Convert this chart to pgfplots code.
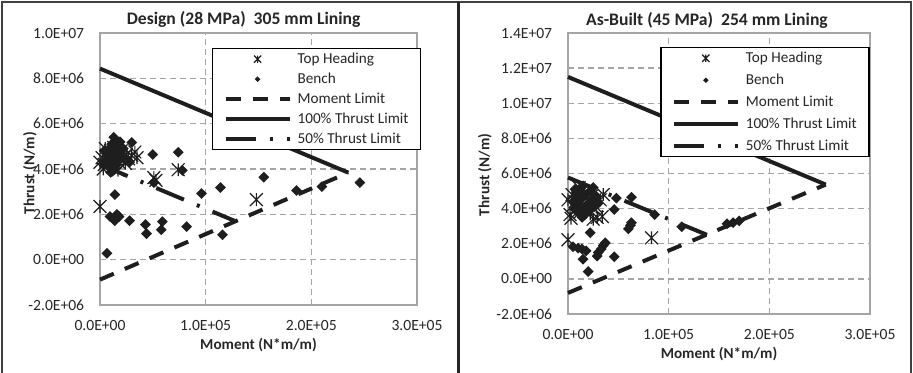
\documentclass[border=0pt]{standalone}
\usepackage{fontspec}
\setmainfont{Carlito}
\usepackage{pgfplots}
\pgfplotsset{compat=1.18}
\usetikzlibrary{plotmarks}

\pgfdeclareplotmark{xdiam}{%
 \pgfpathmoveto{\pgfqpoint{0pt}{\pgfplotmarksize}}%
 \pgfpathlineto{\pgfqpoint{\pgfplotmarksize}{0pt}}%
 \pgfpathlineto{\pgfqpoint{0pt}{-\pgfplotmarksize}}%
 \pgfpathlineto{\pgfqpoint{-\pgfplotmarksize}{0pt}}%
 \pgfpathclose\pgfusepathqfill}
\pgfdeclareplotmark{xstar}{%
 \pgfpathmoveto{\pgfqpoint{-\pgfplotmarksize}{-\pgfplotmarksize}}%
 \pgfpathlineto{\pgfqpoint{\pgfplotmarksize}{\pgfplotmarksize}}%
 \pgfpathmoveto{\pgfqpoint{-\pgfplotmarksize}{\pgfplotmarksize}}%
 \pgfpathlineto{\pgfqpoint{\pgfplotmarksize}{-\pgfplotmarksize}}%
 \pgfpathmoveto{\pgfqpoint{0pt}{-\pgfplotmarksize}}%
 \pgfpathlineto{\pgfqpoint{0pt}{\pgfplotmarksize}}%
 \pgfusepathqstroke}

\definecolor{ink}{RGB}{30,30,30}
\definecolor{gridc}{RGB}{165,165,165}

\pgfplotsset{
  every axis title shift=0pt,
  panel/.style={
    scale only axis, clip=false,
    axis line style={draw=gridc, line width=0.8pt},
    grid=major, major grid style={gridc, dash pattern=on 3pt off 2pt, line width=0.7pt},
    major tick length=0pt,
    tick label style={font=\fontsize{7.8}{9}\selectfont, text=black!85},
    /pgf/number format/assume math mode=true,
    xticklabel style={yshift=-4pt},
    yticklabel style={xshift=-4.4pt},
    xmin=0, xmax=3e5,
    xtick={0,1e5,2e5,3e5}, xticklabels={0.0E+00,1.0E+05,2.0E+05,3.0E+05},
    scaled ticks=false,
    xlabel={Moment (N*m/m)}, ylabel={Thrust (N/m)},
    label style={font=\bfseries\fontsize{7.6}{9}\selectfont, text=black!85},
    title style={font=\bfseries\fontsize{8.8}{10}\selectfont, text=black!85, anchor=center},
    legend style={font=\fontsize{7.6}{9}\selectfont, text=black!85, draw=black, line width=0.7pt,
      fill=white, anchor=north west, cells={anchor=west},
      inner xsep=5.5pt, inner ysep=1.25pt, column sep=2.5pt,
      nodes={inner sep=0.5pt, text height=5.5pt, text depth=1.5pt}},
    legend image code/.code={\draw[mark repeat=2,mark phase=2,#1] plot coordinates {(0pt,0pt) (16pt,0pt) (32pt,0pt)};},
  },
  th/.style={only marks, mark=xstar, mark size=3.2pt, draw=ink, mark options={line width=0.6pt}, legend image post style={mark size=1.8pt}},
  be/.style={only marks, mark=xdiam, mark size=2.7pt, fill=ink, draw=ink, legend image post style={mark size=1.4pt}},
  ml/.style={ink, line width=2pt, dash pattern=on 7.5pt off 6pt, no marks},
  tl/.style={ink, line width=2pt, no marks},
  hl/.style={ink, line width=2pt, dash pattern=on 15pt off 7pt on 1.5pt off 7pt, no marks},
}

\begin{document}
\begin{tikzpicture}
\useasboundingbox (0,0) rectangle (456.5pt,186pt);
\draw[line width=0.6pt, black!75] (1pt,-1pt) -- (1pt,185pt) -- (455.5pt,185pt) -- (455.5pt,-1pt);
\draw[line width=1.5pt, black!85] (229.2pt,-1pt) -- (229.2pt,185pt);

% ---------- Left: Design ----------
\begin{axis}[panel, at={(50pt,33.5pt)}, anchor=south west,
  width=158.5pt, height=136pt,
  ymin=-2e6, ymax=1e7,
  ytick={-2e6,0,2e6,4e6,6e6,8e6,1e7},
  yticklabels={-2.0E+06,0.0E+00,2.0E+06,4.0E+06,6.0E+06,8.0E+06,1.0E+07},
  title={Design (28 MPa)\ \ 305 mm Lining},
  title style={at={(axis description cs:0.453,1.048)}},
  xlabel style={at={(axis description cs:0.5,-0.147)}, anchor=center},
  ylabel style={at={(axis description cs:-0.221,0.485)}, anchor=center},
  legend style={at={(axis description cs:0.353,0.945)}, row sep=2pt},
]
\addplot[th] coordinates {
(0,2.35e6) (1.48e5,2.65e6) (7.4e4,3.97e6) (5.1e4,3.62e6) (5.3e4,3.5e6)
(3.0e4,4.6e6) (3.3e4,4.75e6) (2.7e4,4.45e6) (2.2e4,4.4e6) (1.8e4,4.3e6)
(0.2e4,4.5e6) (0.4e4,4.2e6) (0.6e4,4.6e6) (0.8e4,4.35e6) (1.0e4,4.8e6)
(1.2e4,4.1e6) (0.3e4,4.0e6) (1.5e4,4.55e6) (2.5e4,4.65e6) (0.5e4,4.9e6)
(1.3e4,4.95e6) (3.5e4,4.5e6) (2.0e4,4.8e6) (0.0e4,4.3e6) (1.7e4,3.95e6)
(0.9e4,4.45e6) (2.4e4,4.25e6) (1.1e4,4.65e6)
};
\addlegendentry{Top Heading}
\addplot[be] coordinates {
(1.3e4,5.4e6) (1.5e4,5.25e6) (1.1e4,5.1e6) (1.8e4,5.0e6) (0.9e4,4.9e6)
(1.4e4,4.75e6) (2.0e4,4.6e6) (0.7e4,4.6e6) (1.2e4,4.4e6) (1.6e4,4.2e6)
(0.8e4,4.1e6) (1.0e4,3.85e6) (1.3e4,3.95e6) (2.2e4,4.9e6) (0.5e4,4.3e6)
(1.7e4,4.5e6) (2.4e4,4.4e6) (0.4e4,4.8e6) (1.9e4,5.2e6) (1.0e4,4.65e6)
(2.8e4,4.3e6) (1.6e4,5.05e6) (1.2e4,4.25e6)
(3.0e4,5.17e6) (5.0e4,4.64e6) (7.4e4,4.74e6) (7.8e4,3.94e6) (5.1e4,3.4e6)
(9.6e4,2.92e6) (1.14e5,3.18e6) (1.55e5,3.64e6) (1.86e5,3.05e6) (2.10e5,3.22e6)
(2.46e5,3.4e6) (1.4e4,2.87e6) (0.95e4,1.9e6) (1.6e4,2.0e6) (1.8e4,1.9e6)
(1.5e4,1.8e6) (1.4e4,1.72e6) (2.8e4,1.72e6) (4.3e4,1.55e6) (4.4e4,1.15e6)
(5.9e4,1.68e6) (5.8e4,1.32e6) (8.2e4,1.46e6) (1.16e5,1.1e6) (0.66e4,0.28e6)
};
\addlegendentry{Bench}
\addplot[ml] coordinates {(0,-0.88e6) (2.35e5,3.84e6)};
\addlegendentry{Moment Limit}
\addplot[tl] coordinates {(0,8.43e6) (2.35e5,3.84e6)};
\addlegendentry{100\% Thrust Limit}
\addplot[hl] coordinates {(0,4.2e6) (1.28e5,1.7e6)};
\addlegendentry{50\% Thrust Limit}
\end{axis}

% ---------- Right: As-Built ----------
\begin{axis}[panel, at={(284pt,29pt)}, anchor=south west,
  width=151pt, height=140.5pt,
  ymin=-2e6, ymax=1.4e7,
  ytick={-2e6,0,2e6,4e6,6e6,8e6,1e7,1.2e7,1.4e7},
  yticklabels={-2.0E+06,0.0E+00,2.0E+06,4.0E+06,6.0E+06,8.0E+06,1.0E+07,1.2E+07,1.4E+07},
  title={As-Built (45 MPa)\ \ 254 mm Lining},
  title style={at={(axis description cs:0.46,1.046)}},
  xlabel style={at={(axis description cs:0.5,-0.142)}, anchor=center},
  ylabel style={at={(axis description cs:-0.275,0.495)}, anchor=center},
  legend style={at={(axis description cs:0.305,0.95)}, row sep=3pt},
]
\addplot[th] coordinates {
(0,2.23e6) (8.3e4,2.34e6)
(0.2e4,3.66e6) (0,4.5e6) (0.5e4,4.2e6) (0.8e4,3.95e6) (1.0e4,4.6e6)
(1.3e4,4.3e6) (1.6e4,4.9e6) (1.8e4,4.0e6) (2.0e4,4.4e6) (2.3e4,4.7e6)
(2.5e4,3.4e6) (2.8e4,4.1e6) (2.9e4,3.5e6) (3.2e4,4.5e6) (3.5e4,4.8e6)
(3.4e4,3.55e6) (0.4e4,4.8e6) (1.2e4,3.8e6) (2.2e4,3.7e6) (0.7e4,4.4e6)
(1.1e4,5.2e6) (0.3e4,3.45e6)
};
\addlegendentry{Top Heading}
\addplot[be] coordinates {
(0.5e4,4.4e6) (0.8e4,4.8e6) (1.0e4,4.2e6) (1.2e4,5.0e6) (1.4e4,4.6e6)
(1.6e4,4.0e6) (1.8e4,4.8e6) (2.0e4,4.3e6) (2.2e4,5.0e6) (2.4e4,4.5e6)
(2.6e4,4.1e6) (1.0e4,3.8e6) (0.6e4,4.0e6) (1.5e4,5.3e6) (2.8e4,4.7e6)
(1.8e4,3.75e6) (0.9e4,4.6e6) (3.0e4,4.3e6) (2.1e4,3.9e6) (0.7e4,5.1e6)
(2.5e4,5.2e6) (1.4e4,3.5e6)
(4.8e4,4.6e6) (6.3e4,4.65e6) (4.6e4,3.95e6) (6.0e4,2.85e6) (6.3e4,3.2e6)
(6.2e4,3.05e6) (8.6e4,3.66e6) (1.13e5,2.97e6) (1.58e5,3.14e6) (1.70e5,3.3e6)
(1.64e5,3.2e6) (2.2e4,2.63e6) (0.5e4,1.83e6) (1.4e4,1.7e6) (1.8e4,1.6e6)
(1.5e4,1.12e6) (2.0e4,0.42e6) (3.5e4,1.9e6) (3.0e4,1.5e6) (3.3e4,1.7e6)
(2.9e4,1.3e6) (4.6e4,1.26e6) (3.7e4,2.05e6) (1.0e4,1.75e6)
};
\addlegendentry{Bench}
\addplot[ml] coordinates {(0,-0.8e6) (2.56e5,5.37e6)};
\addlegendentry{Moment Limit}
\addplot[tl] coordinates {(0,11.5e6) (2.56e5,5.37e6)};
\addlegendentry{100\% Thrust Limit}
\addplot[hl] coordinates {(0,5.77e6) (1.38e5,2.51e6)};
\addlegendentry{50\% Thrust Limit}
\end{axis}
\end{tikzpicture}
\end{document}
